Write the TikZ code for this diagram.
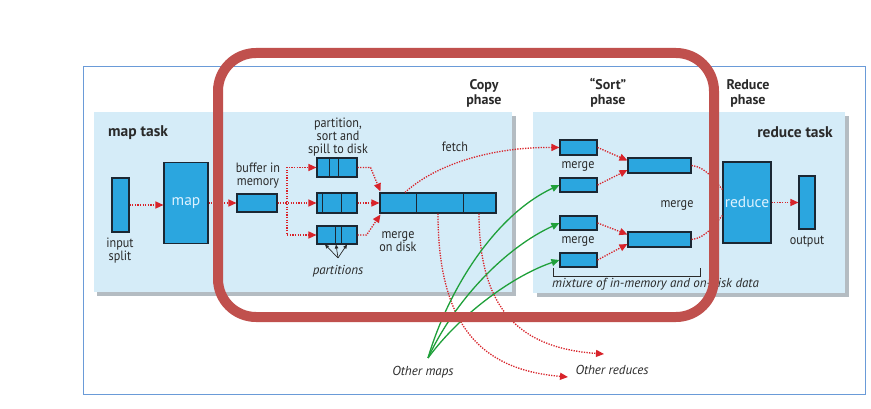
\documentclass[tikz,border=0pt]{standalone}
\usepackage{fontspec}
\setmainfont{PT Sans}
\newfontfamily\condfont[FakeStretch=0.9]{PT Sans}
\usetikzlibrary{arrows.meta}
\definecolor{panel}{HTML}{D5ECF8}
\definecolor{shadowc}{HTML}{B4BCC2}
\definecolor{boxfill}{HTML}{2BA6DF}
\definecolor{boxline}{HTML}{1B2733}
\definecolor{redarr}{HTML}{D8232A}
\definecolor{greenarr}{HTML}{1FA03A}
\definecolor{hl}{HTML}{C0504D}
\definecolor{framec}{HTML}{6A9BD8}
\definecolor{txt}{HTML}{2A2A2A}
\definecolor{boxtxt}{HTML}{DDF2FF}
\begin{document}
\begin{tikzpicture}[x=1pt,y=-1pt,
  box/.style={draw=boxline, fill=boxfill, line width=1.1pt, inner sep=0pt},
  divider/.style={draw=boxline, line width=1.1pt},
  rarr/.style={draw=redarr, line width=1.3pt, dash pattern=on 1.3pt off 1.3pt, -{Triangle[length=8pt,width=7pt]}},
  rline/.style={draw=redarr, line width=1.3pt, dash pattern=on 1.3pt off 1.3pt},
  garr/.style={draw=greenarr, line width=1.3pt, -{Triangle[length=8pt,width=7pt]}},
  parr/.style={draw=txt, line width=0.7pt, -{Triangle[length=4pt,width=3.5pt]}},
  lbl/.style={text=txt, font=\condfont\fontsize{13.5}{13}\selectfont, align=center, inner sep=0pt},
  ilbl/.style={lbl, font=\fontsize{13}{13}\selectfont\itshape},
  blbl/.style={text=txt, font=\fontsize{15.5}{15.5}\selectfont\bfseries, inner sep=0pt},
  phase/.style={text=txt, font=\fontsize{14}{15}\selectfont\bfseries, align=center, inner sep=0pt},
  intxt/.style={text=boxtxt, font=\fontsize{15.5}{15.5}\selectfont}
]
\useasboundingbox (0,0) rectangle (871,409);
\fill[white] (0,0) rectangle (871,409);
% outer frame
\draw[framec, line width=0.9pt] (83,66) rectangle (865,394);
% panels with shadows
\fill[shadowc] (97,116) rectangle (516,296);
\fill[panel] (94,112) rectangle (512,292);
\fill[shadowc] (537,116) rectangle (849,297);
\fill[panel] (533,112) rectangle (845,293);

% phase labels
\node[phase] (copyph) at (484,93) {Copy\\phase};
\node[phase] (sortph) at (608,93) {“Sort”\\phase};
\node[phase] (redph) at (748,93) {Reduce\\phase};
\node[blbl, anchor=west] (maptask) at (108,133) {map task};
\node[blbl, anchor=east] (redtask) at (833,132) {reduce task};

% map side boxes
\node[box, minimum width=17pt, minimum height=54pt] (input) at (120.5,205) {};
\node[box, minimum width=44pt, minimum height=81pt] (map) at (186,203) {};
\node[intxt] at (map) {map};
\node[box, minimum width=40pt, minimum height=18pt] (buffer) at (257,203) {};
\node[box, minimum width=40pt, minimum height=19pt] (sp1) at (337,167.5) {};
\node[box, minimum width=40pt, minimum height=20pt] (sp2) at (337,203) {};
\node[box, minimum width=40pt, minimum height=18pt] (sp3) at (337,235) {};
\draw[divider] ([xshift=13pt]sp1.north west) -- ([xshift=13pt]sp1.south west);
\draw[divider] ([xshift=22pt]sp1.north west) -- ([xshift=22pt]sp1.south west);
\draw[divider] ([xshift=6pt]sp2.north west) -- ([xshift=6pt]sp2.south west);
\draw[divider] ([xshift=25pt]sp2.north west) -- ([xshift=25pt]sp2.south west);
\draw[divider] ([xshift=19pt]sp3.north west) -- ([xshift=19pt]sp3.south west);
\draw[divider] ([xshift=25pt]sp3.north west) -- ([xshift=25pt]sp3.south west);
\node[box, minimum width=116pt, minimum height=20pt] (mdisk) at (438,203) {};
\draw[divider] ([xshift=37pt]mdisk.north west) -- ([xshift=37pt]mdisk.south west);
\draw[divider] ([xshift=84pt]mdisk.north west) -- ([xshift=84pt]mdisk.south west);

% map side labels
\node[lbl] (inlbl) at (120,251) {input\\split};
\node[lbl] (buflbl) at (258,176) {buffer in\\memory};
\node[lbl] (spilllbl) at (338,137) {partition,\\sort and\\spill to disk};
\node[ilbl] (partlbl) at (338,271) {partitions};
\node[lbl] (mdlbl) at (398,242) {merge\\on disk};
\node[lbl] (fetchlbl) at (455,147) {fetch};

% map side arrows
\draw[rarr] (input.east) -- (input.east -| map.west);
\draw[rarr] (map.east) -- (buffer.west);
\coordinate (fork) at (287,203);
\draw[rarr] (buffer.east) -- (fork) |- (sp1.west);
\draw[rarr] (buffer.east) -- (sp2.west);
\draw[rarr] (buffer.east) -- (fork) |- (sp3.west);
\draw[rarr] (sp1.east) -- ++(13pt,0) -- ([xshift=1pt,yshift=1pt]mdisk.north west);
\draw[rarr] (sp2.east) -- (mdisk.west);
\draw[rarr] (sp3.east) -- ++(9pt,0) -- ([xshift=1pt,yshift=-1pt]mdisk.south west);
\draw[parr] ([yshift=7pt]partlbl.north) -- ([xshift=-12pt]sp3.south);
\draw[parr] ([yshift=7pt]partlbl.north) -- ([xshift=-1pt]sp3.south);
\draw[parr] ([yshift=7pt]partlbl.north) -- ([xshift=10pt]sp3.south);

% reduce side boxes
\node[box, minimum width=37pt, minimum height=15pt] (s1) at (578.5,147.5) {};
\node[box, minimum width=37pt, minimum height=14pt] (s2) at (578.5,185) {};
\node[box, minimum width=37pt, minimum height=14pt] (s3) at (578.5,223) {};
\node[box, minimum width=37pt, minimum height=14pt] (s4) at (578.5,260) {};
\node[box, minimum width=63pt, minimum height=15pt] (b1) at (659.5,165.5) {};
\node[box, minimum width=63pt, minimum height=15pt] (b2) at (659.5,239.5) {};
\node[box, minimum width=48pt, minimum height=81pt] (reduce) at (747,202.5) {};
\node[intxt] at (reduce) {reduce};
\node[box, minimum width=16pt, minimum height=53pt] (output) at (807,202.5) {};

\node[lbl] (m1) at (578,166) {merge};
\node[lbl] (m2) at (578,241) {merge};
\node[lbl] (m3) at (677,205) {merge};
\node[lbl] (outlbl) at (807,242) {output};
\draw[draw=txt, line width=0.7pt] (553,268) -- (553,276) -- (700,276) -- (700,268);
\node[ilbl, anchor=west] (mixlbl) at (552,284) {mixture of in-memory and on-disk data};

% sort arrows
\draw[rarr] (s1.east) -- ([yshift=5pt]b1.west);
\draw[rarr] (s2.east) -- ([yshift=-4.5pt]b1.west);
\draw[rarr] (s3.east) -- ([yshift=5pt]b2.west);
\draw[rarr] (s4.east) -- ([yshift=-4.5pt]b2.west);
\draw[rline] (b1.east) .. controls (706,167) and (714,180) .. ([yshift=13pt]reduce.west);
\draw[rline] (b2.east) .. controls (706,238) and (714,225) .. ([yshift=-13pt]reduce.west);
\draw[rarr] (reduce.east) -- (output.west);

% fetch
\draw[rarr] ([xshift=-33pt]mdisk.north) .. controls (435,165) and (490,147) .. (s1.west);

% other reduces
\coordinate (or1) at (568,377);
\coordinate (or2) at (604,354);
\draw[rarr] (mdisk.south) .. controls (438,330) and (485,370) .. (or1);
\draw[rarr] ([xshift=41pt]mdisk.south) .. controls (479,310) and (520,348) .. (or2);
\node[ilbl] (orlbl) at (612,370) {Other reduces};

% other maps
\coordinate (om) at (428,358);
\draw[garr] (om) .. controls (448,290) and (495,215) .. (s2.west);
\draw[garr] (om) .. controls (455,300) and (505,248) .. (s3.west);
\draw[garr] (om) .. controls (462,312) and (515,275) .. (s4.west);
\node[ilbl] (omlbl) at (423,372) {Other maps};

% highlight
\draw[hl, line width=10pt, rounded corners=38pt] (218,53) rectangle (714,317);
\end{tikzpicture}
\end{document}
